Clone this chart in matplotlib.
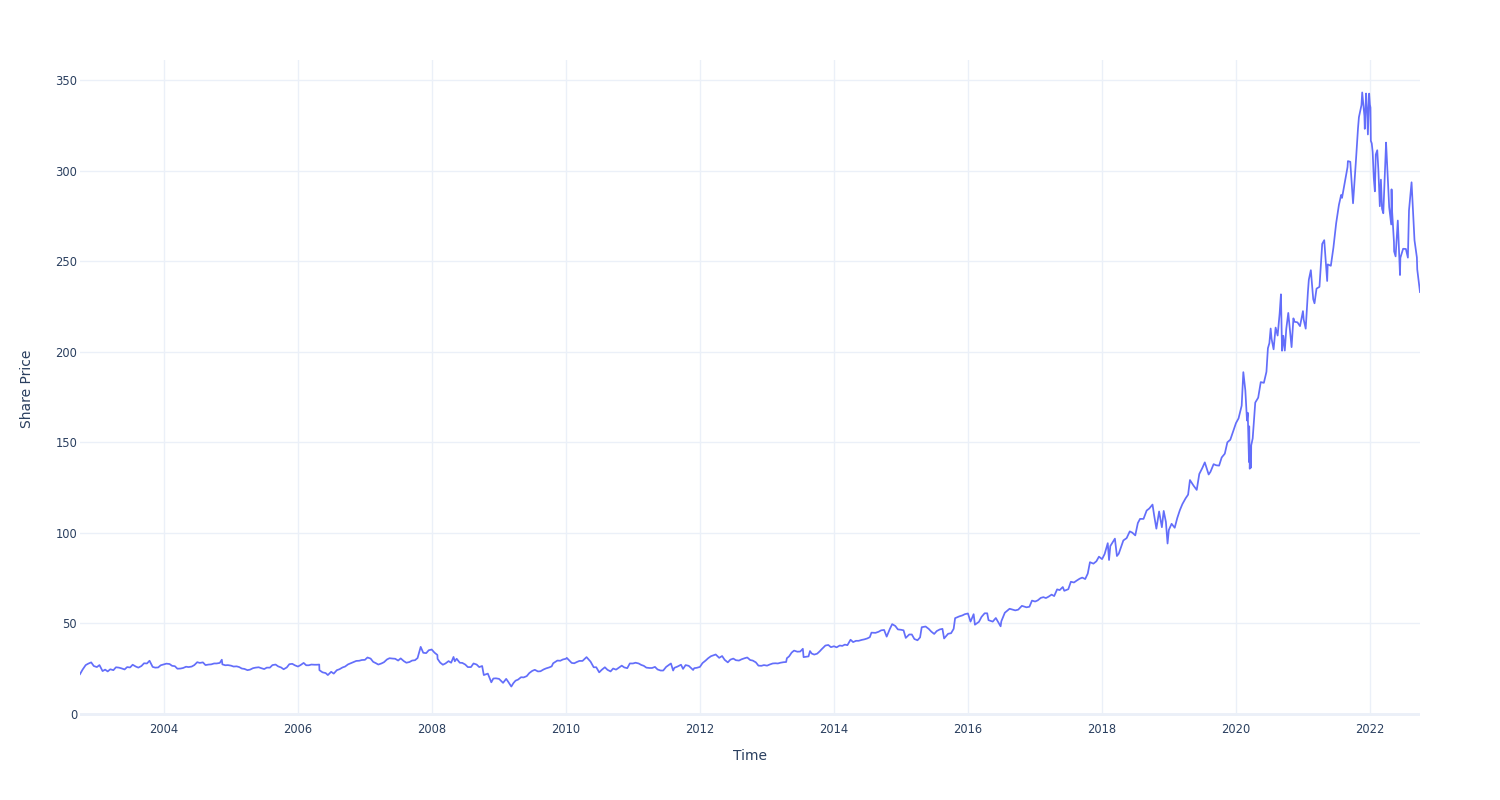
import matplotlib
matplotlib.use("Agg")
import matplotlib.pyplot as plt
import matplotlib.dates as mdates
import pandas as pd

# ---- data ----
dates = [
    "2002-10-01", "2002-10-15", "2002-11-01", "2002-11-15", "2002-12-01", "2002-12-15",
    "2003-01-01", "2003-01-15", "2003-02-01", "2003-02-15", "2003-03-01", "2003-03-15",
    "2003-04-01", "2003-04-15", "2003-05-01", "2003-05-15", "2003-06-01", "2003-06-15",
    "2003-07-01", "2003-07-15", "2003-08-01", "2003-08-15", "2003-09-01", "2003-09-15",
    "2003-10-01", "2003-10-15", "2003-11-01", "2003-11-15", "2003-12-01", "2003-12-15",
    "2004-01-01", "2004-01-15", "2004-02-01", "2004-02-15", "2004-03-01", "2004-03-15",
    "2004-04-01", "2004-04-15", "2004-05-01", "2004-05-15", "2004-06-01", "2004-06-15",
    "2004-07-01", "2004-07-15", "2004-08-01", "2004-08-15", "2004-09-01", "2004-09-15",
    "2004-10-01", "2004-10-15", "2004-11-01", "2004-11-12", "2004-11-15", "2004-12-01", "2004-12-15",
    "2005-01-01", "2005-01-15", "2005-02-01", "2005-02-15", "2005-03-01", "2005-03-15",
    "2005-04-01", "2005-04-15", "2005-05-01", "2005-05-15", "2005-06-01", "2005-06-15",
    "2005-07-01", "2005-07-15", "2005-08-01", "2005-08-15", "2005-09-01", "2005-09-15",
    "2005-10-01", "2005-10-15", "2005-11-01", "2005-11-15", "2005-12-01", "2005-12-15",
    "2006-01-01", "2006-01-15", "2006-02-01", "2006-02-15", "2006-03-01", "2006-03-15",
    "2006-04-01", "2006-04-15", "2006-04-27", "2006-04-28", "2006-05-15", "2006-06-01", "2006-06-13",
    "2006-07-01", "2006-07-15", "2006-08-01", "2006-08-15", "2006-09-01", "2006-09-15",
    "2006-10-01", "2006-10-15", "2006-11-01", "2006-11-15", "2006-12-01", "2006-12-15",
    "2007-01-01", "2007-01-15", "2007-02-01", "2007-02-15", "2007-03-01", "2007-03-15",
    "2007-04-01", "2007-04-15", "2007-05-01", "2007-05-15", "2007-06-01", "2007-06-15",
    "2007-07-01", "2007-07-15", "2007-08-01", "2007-08-15", "2007-09-01", "2007-09-15",
    "2007-10-01", "2007-10-15", "2007-10-26", "2007-11-01", "2007-11-15", "2007-12-01",
    "2007-12-15", "2007-12-31",
    "2008-01-15", "2008-01-31", "2008-02-01", "2008-02-15", "2008-03-01", "2008-03-15",
    "2008-04-01", "2008-04-15", "2008-04-28", "2008-05-05", "2008-05-15", "2008-06-01",
    "2008-06-15", "2008-07-01", "2008-07-15", "2008-08-01", "2008-08-15", "2008-09-01",
    "2008-09-15", "2008-10-01", "2008-10-10", "2008-11-01", "2008-11-20", "2008-12-01", "2008-12-15",
    "2009-01-01", "2009-01-23", "2009-02-09", "2009-02-20", "2009-03-09", "2009-03-20",
    "2009-04-01", "2009-04-15", "2009-05-01", "2009-05-15", "2009-06-01", "2009-06-15",
    "2009-07-01", "2009-07-15", "2009-08-01", "2009-08-15", "2009-09-01", "2009-09-15",
    "2009-10-01", "2009-10-15", "2009-10-23", "2009-11-15", "2009-12-01", "2009-12-15",
    "2010-01-01", "2010-01-05", "2010-02-01", "2010-02-15", "2010-03-01", "2010-03-15",
    "2010-04-01", "2010-04-23", "2010-05-01", "2010-05-15", "2010-06-01", "2010-06-15",
    "2010-07-01", "2010-07-15", "2010-08-01", "2010-08-15", "2010-09-01", "2010-09-15",
    "2010-10-01", "2010-10-15", "2010-11-01", "2010-11-15", "2010-12-01", "2010-12-15",
    "2011-01-01", "2011-01-15", "2011-02-01", "2011-02-15", "2011-03-01", "2011-03-15",
    "2011-04-01", "2011-04-15", "2011-05-01", "2011-05-15", "2011-06-01", "2011-06-15",
    "2011-07-01", "2011-07-27", "2011-08-08", "2011-08-15", "2011-09-01", "2011-09-20",
    "2011-10-01", "2011-10-15", "2011-11-01", "2011-11-25", "2011-12-01", "2011-12-15",
    "2012-01-01", "2012-01-15", "2012-02-01", "2012-02-15", "2012-03-01", "2012-03-27",
    "2012-04-15", "2012-05-01", "2012-05-15", "2012-06-01", "2012-06-15", "2012-07-01",
    "2012-07-15", "2012-08-01", "2012-08-15", "2012-09-01", "2012-09-15", "2012-10-01",
    "2012-10-15", "2012-11-01", "2012-11-15", "2012-12-01", "2012-12-15",
    "2013-01-01", "2013-01-15", "2013-02-01", "2013-02-15", "2013-03-01", "2013-03-15",
    "2013-04-01", "2013-04-15", "2013-04-19", "2013-05-01", "2013-05-15", "2013-05-28",
    "2013-06-15", "2013-07-01", "2013-07-15", "2013-07-19", "2013-08-15", "2013-08-23",
    "2013-09-01", "2013-09-15", "2013-10-01", "2013-10-15", "2013-10-25", "2013-11-15",
    "2013-12-01", "2013-12-15",
    "2014-01-01", "2014-01-15", "2014-02-01", "2014-02-15", "2014-03-01", "2014-03-15",
    "2014-04-01", "2014-04-15", "2014-05-01", "2014-05-15", "2014-06-01", "2014-06-15",
    "2014-07-01", "2014-07-15", "2014-07-24", "2014-08-15", "2014-09-01", "2014-09-15",
    "2014-10-01", "2014-10-15", "2014-11-01", "2014-11-14", "2014-12-01", "2014-12-15",
    "2015-01-01", "2015-01-15", "2015-01-27", "2015-02-15", "2015-03-01", "2015-03-15",
    "2015-04-01", "2015-04-15", "2015-04-24", "2015-05-15", "2015-06-01", "2015-06-15",
    "2015-07-01", "2015-07-15", "2015-08-01", "2015-08-15", "2015-08-24", "2015-09-15",
    "2015-10-01", "2015-10-15", "2015-10-23", "2015-11-15", "2015-12-01", "2015-12-15",
    "2016-01-01", "2016-01-15", "2016-02-01", "2016-02-08", "2016-03-01", "2016-03-15",
    "2016-04-01", "2016-04-15", "2016-04-22", "2016-05-15", "2016-06-01", "2016-06-27",
    "2016-07-01", "2016-07-20", "2016-08-15", "2016-09-01", "2016-09-15", "2016-10-01",
    "2016-10-21", "2016-11-15", "2016-12-01", "2016-12-15",
    "2017-01-01", "2017-01-15", "2017-02-01", "2017-02-15", "2017-03-01", "2017-03-15",
    "2017-04-01", "2017-04-15", "2017-05-01", "2017-05-15", "2017-06-01", "2017-06-09",
    "2017-07-01", "2017-07-15", "2017-08-01", "2017-08-15", "2017-09-01", "2017-09-15",
    "2017-10-01", "2017-10-15", "2017-10-27", "2017-11-15", "2017-12-01", "2017-12-15",
    "2018-01-01", "2018-01-15", "2018-02-01", "2018-02-08", "2018-02-15", "2018-03-12",
    "2018-03-23", "2018-04-02", "2018-04-27", "2018-05-15", "2018-06-01", "2018-06-15",
    "2018-07-01", "2018-07-15", "2018-07-27", "2018-08-15", "2018-09-01", "2018-09-15",
    "2018-10-03", "2018-10-12", "2018-10-24", "2018-11-08", "2018-11-23", "2018-12-03",
    "2018-12-15", "2018-12-24", "2018-12-31",
    "2019-01-15", "2019-02-01", "2019-02-15", "2019-03-01", "2019-03-15", "2019-04-01",
    "2019-04-15", "2019-04-25", "2019-05-15", "2019-06-01", "2019-06-15", "2019-07-01",
    "2019-07-15", "2019-08-05", "2019-08-15", "2019-09-01", "2019-09-15", "2019-10-01",
    "2019-10-15", "2019-11-01", "2019-11-15", "2019-12-01", "2019-12-15",
    "2020-01-01", "2020-01-15", "2020-02-01", "2020-02-10", "2020-02-21", "2020-03-01",
    "2020-03-05", "2020-03-09", "2020-03-12", "2020-03-13", "2020-03-16", "2020-03-18",
    "2020-03-23", "2020-03-24", "2020-04-01", "2020-04-15", "2020-05-01", "2020-05-15",
    "2020-06-01", "2020-06-15", "2020-06-23", "2020-07-01", "2020-07-08", "2020-07-13",
    "2020-07-24", "2020-08-04", "2020-08-15", "2020-08-26", "2020-09-02", "2020-09-08",
    "2020-09-15", "2020-09-23", "2020-10-01", "2020-10-12", "2020-10-30", "2020-11-09",
    "2020-11-15", "2020-12-01", "2020-12-15", "2020-12-31",
    "2021-01-04", "2021-01-15", "2021-01-27", "2021-02-01", "2021-02-12", "2021-02-25",
    "2021-03-04", "2021-03-15", "2021-03-31", "2021-04-15", "2021-04-26", "2021-05-12",
    "2021-05-15", "2021-06-01", "2021-06-15", "2021-06-30", "2021-07-15", "2021-07-27",
    "2021-08-01", "2021-08-15", "2021-08-31", "2021-09-02", "2021-09-15", "2021-09-30",
    "2021-10-15", "2021-10-27", "2021-11-01", "2021-11-15", "2021-11-19", "2021-12-01",
    "2021-12-03", "2021-12-10", "2021-12-15", "2021-12-20", "2021-12-27", "2021-12-31",
    "2022-01-03", "2022-01-05", "2022-01-10", "2022-01-15", "2022-01-21", "2022-01-27",
    "2022-02-01", "2022-02-09", "2022-02-15", "2022-02-23", "2022-03-01", "2022-03-07",
    "2022-03-14", "2022-03-29", "2022-04-01", "2022-04-15", "2022-04-26", "2022-04-28",
    "2022-05-01", "2022-05-11", "2022-05-12", "2022-05-20", "2022-06-01", "2022-06-13",
    "2022-06-15", "2022-06-30", "2022-07-15", "2022-07-26", "2022-08-01", "2022-08-15",
    "2022-08-31", "2022-09-13", "2022-09-15", "2022-09-30",
]

prices = [
    22.0, 24.5, 27.0, 27.8, 28.5, 26.5,
    25.9, 27.0, 23.7, 24.5, 23.5, 24.7,
    24.2, 25.8, 25.6, 25.2, 24.6, 25.9,
    25.7, 27.2, 26.2, 25.6, 26.5, 28.0,
    27.9, 29.4, 26.0, 25.6, 25.7, 26.9,
    27.4, 27.8, 27.6, 26.6, 26.4, 25.0,
    25.1, 25.4, 26.1, 25.9, 26.2, 27.0,
    28.6, 28.2, 28.5, 27.0, 27.3, 27.4,
    27.9, 27.9, 28.2, 29.97, 27.4, 26.9, 27.0,
    26.7, 26.2, 26.3, 25.9, 25.1, 24.9,
    24.2, 24.5, 25.3, 25.6, 25.8, 25.3,
    24.8, 25.6, 25.6, 27.0, 27.3, 26.3,
    25.7, 24.7, 25.7, 27.5, 27.7, 26.9,
    26.2, 27.0, 28.2, 26.9, 26.9, 27.3,
    27.2, 27.2, 27.3, 24.2, 23.0, 22.6, 21.5,
    23.3, 22.3, 24.2, 24.7, 25.7, 26.2,
    27.4, 28.0, 28.7, 29.3, 29.4, 29.8,
    29.9, 31.2, 30.6, 28.8, 28.1, 27.3,
    27.9, 28.6, 30.1, 30.8, 30.6, 30.5,
    29.5, 30.7, 29.2, 28.3, 28.7, 29.5,
    29.7, 30.9, 35.0, 37.06, 33.8, 33.6,
    35.2, 35.6,
    33.9, 32.6, 30.45, 28.4, 27.2, 27.9,
    29.2, 28.3, 31.5, 29.1, 30.5, 28.3,
    28.2, 27.3, 25.9, 25.9, 27.9, 27.3,
    25.9, 26.5, 21.5, 22.3, 17.5, 19.6, 19.7,
    19.4, 17.2, 19.4, 17.8, 15.15, 17.0,
    18.4, 19.0, 20.3, 20.2, 20.9, 22.6,
    23.8, 24.4, 23.5, 23.6, 24.6, 25.2,
    25.7, 26.3, 28.0, 29.5, 29.4, 30.1,
    30.5, 31.0, 28.2, 28.0, 28.7, 29.3,
    29.3, 31.4, 30.5, 28.9, 25.8, 25.8,
    23.0, 24.4, 25.8, 24.4, 23.5, 25.1,
    24.5, 25.5, 26.7, 25.7, 25.3, 27.9,
    27.9, 28.3, 27.9, 27.1, 26.6, 25.6,
    25.4, 25.4, 26.0, 24.6, 24.0, 24.0,
    26.0, 27.9, 24.0, 25.5, 26.2, 27.2,
    24.9, 27.0, 26.6, 24.3, 25.3, 25.5,
    26.0, 28.1, 29.5, 30.8, 31.9, 32.85,
    31.0, 32.0, 29.9, 28.5, 30.0, 30.6,
    29.7, 29.5, 30.2, 30.8, 31.2, 29.8,
    29.5, 28.5, 26.7, 26.6, 27.0,
    26.7, 27.3, 27.9, 28.0, 27.9, 28.3,
    28.6, 28.7, 30.8, 31.8, 33.9, 35.0,
    34.4, 34.5, 36.0, 31.4, 31.8, 34.75,
    33.4, 32.8, 33.3, 34.6, 35.7, 37.8,
    38.1, 36.9,
    37.4, 36.8, 37.8, 37.6, 38.3, 38.0,
    41.0, 39.7, 40.4, 40.4, 40.9, 41.2,
    41.7, 42.4, 44.9, 44.8, 45.4, 46.2,
    46.4, 42.7, 46.9, 49.6, 48.6, 46.7,
    46.5, 46.2, 42.0, 43.9, 43.9, 41.4,
    40.7, 42.3, 47.9, 48.3, 47.0, 45.5,
    44.2, 45.8, 46.7, 47.0, 41.7, 44.3,
    44.6, 47.0, 52.9, 53.9, 54.4, 55.1,
    55.5, 51.0, 55.1, 49.3, 50.9, 53.6,
    55.6, 55.6, 51.8, 51.0, 53.0, 48.4,
    51.2, 55.9, 58.1, 57.6, 57.2, 57.6,
    59.7, 58.9, 59.2, 62.6,
    62.1, 62.7, 64.1, 64.5, 64.0, 64.75,
    65.9, 65.1, 68.8, 68.4, 70.1, 68.0,
    68.9, 73.0, 72.6, 73.6, 74.7, 75.3,
    74.5, 77.5, 83.8, 83.0, 84.3, 86.85,
    85.5, 88.3, 94.3, 85.0, 92.7, 96.8,
    87.2, 88.5, 95.8, 97.1, 100.8, 100.1,
    98.6, 105.4, 107.7, 107.7, 112.3, 113.4,
    115.6, 109.6, 102.3, 111.8, 103.1, 112.1,
    106.0, 94.1, 101.6,
    105.0, 102.8, 108.2, 112.5, 115.9, 119.0,
    121.1, 129.15, 126.0, 123.7, 132.5, 135.7,
    138.9, 132.2, 133.7, 137.9, 137.3, 137.1,
    141.6, 143.7, 149.97, 151.4, 155.5,
    160.6, 163.2, 170.2, 188.7, 178.6, 162.0,
    166.3, 150.6, 139.1, 158.8, 135.4, 140.4,
    135.98, 148.3, 152.1, 171.9, 174.6, 183.2,
    182.8, 188.9, 201.9, 204.7, 212.8, 207.1,
    201.3, 213.3, 208.9, 221.2, 231.65, 200.5,
    208.8, 200.6, 212.5, 221.4, 202.5, 218.4,
    216.5, 216.2, 214.1, 222.4,
    217.7, 212.7, 232.9, 239.7, 244.99, 228.99,
    226.7, 234.8, 235.8, 259.5, 261.55, 239.0,
    248.2, 247.4, 257.4, 270.9, 281.0, 286.5,
    284.9, 292.9, 301.9, 305.2, 304.8, 281.9,
    304.2, 323.2, 329.4, 336.1, 343.1, 330.1,
    323.0, 342.5, 334.7, 319.9, 342.45, 336.3,
    334.75, 316.4, 314.98, 310.2, 296.0, 288.5,
    308.8, 311.2, 300.5, 280.3, 294.95, 278.9,
    276.4, 315.4, 309.4, 279.8, 270.2, 289.6,
    277.5, 260.6, 255.35, 252.6, 272.4, 242.3,
    251.8, 256.8, 256.7, 251.9, 278.0, 293.5,
    261.5, 252.0, 245.4, 232.9,
]

tick_years = [2004, 2006, 2008, 2010, 2012, 2014, 2016, 2018, 2020, 2022]
y_ticks = [0, 50, 100, 150, 200, 250, 300, 350]
x_title = "Time"
y_title = "Share Price"

# ---- styling ----
LINE = "#636efa"
GRID = "#EBF0F8"
TXT = "#2a3f5f"
plt.rcParams["font.family"] = ["DejaVu Sans"]

W, H = 1500, 800
fig = plt.figure(figsize=(W / 100, H / 100), dpi=100)
left, right, top, bottom = 80, 1420, 60, 716
ax = fig.add_axes([left / W, 1 - bottom / H, (right - left) / W, (bottom - top) / H])

x = pd.to_datetime(dates)
ax.plot(x, prices, color=LINE, linewidth=1.25, solid_joinstyle="round", zorder=3)

ax.set_xlim(x[0], x[-1])
ax.set_ylim(-1.1, 361.0)

ax.set_xticks([pd.Timestamp(f"{y}-01-01") for y in tick_years])
ax.xaxis.set_major_formatter(mdates.DateFormatter("%Y"))
ax.set_yticks(y_ticks)

for s in ax.spines.values():
    s.set_visible(False)
ax.grid(True, color=GRID, linewidth=1.0, zorder=0)
ax.axhline(0, color=GRID, linewidth=2.0, zorder=1)
ax.tick_params(axis="both", length=0, labelsize=8.3, labelcolor=TXT)
ax.tick_params(axis="x", pad=5)
ax.tick_params(axis="y", pad=2)

fig.text(750 / W, 1 - 756 / H, x_title, ha="center", va="center",
         fontsize=10.0, color=TXT)
fig.text(27 / W, 1 - 389 / H, y_title, ha="center", va="center",
         rotation=90, fontsize=10.0, color=TXT)

fig.savefig("out.png", dpi=100, facecolor="white")
